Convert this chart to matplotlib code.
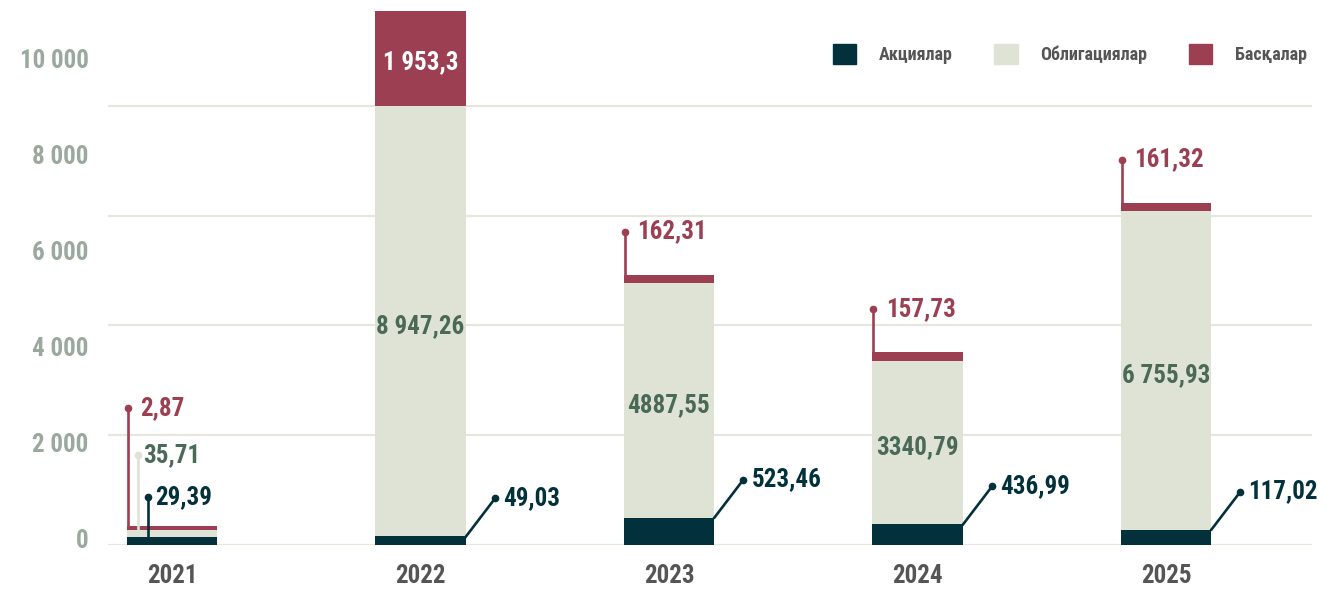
import numpy as np
import matplotlib
matplotlib.use('Agg')
import matplotlib.pyplot as plt
import matplotlib.transforms as mtrans
from matplotlib.patches import Patch

# data
years = ['2021', '2022', '2023', '2024', '2025']
series_names = ['Акциялар', 'Облигациялар', 'Басқалар']

stocks_lbl = ['29,39', '49,03', '523,46', '436,99', '117,02']
bonds_lbl = ['35,71', '8 947,26', '4887,55', '3340,79', '6 755,93']
other_lbl = ['2,87', '1 953,3', '162,31', '157,73', '161,32']

# bar heights as drawn (small segments are drawn bigger than their value)
stocks_h = [155, 167, 562, 417, 312]
bonds_h = [156, 8980, 4896, 3417, 6646]
other_h = [83, 1979, 167, 167, 167]

yticks = [0, 2000, 4000, 6000, 8000, 10000]
ytick_lbl = ['0', '2 000', '4 000', '6 000', '8 000', '10 000']
grid_levels = [0, 2285, 4570, 6855, 9140]

# 2021 callout tips (stocks, bonds, other)
tips_2021 = [990, 1865, 2844]

# colours
c_stock = '#03313b'
c_bond = '#dfe3d5'
c_other = '#9d3f52'
c_bond_txt = '#4a6a57'
c_tick = '#9aa89e'
c_year = '#555555'
c_grid = '#e6e6dd'

plt.rcParams['font.family'] = ['Liberation Sans Narrow', 'Roboto Condensed', 'DejaVu Sans']
plt.rcParams['font.weight'] = 'bold'

W, H = 1342, 591
fig = plt.figure(figsize=(W / 100, H / 100), dpi=100)
left_px, right_px, bot_px, top_px = 108, 1312, 544.5, 7
ax = fig.add_axes([left_px / W, (H - bot_px) / H, (right_px - left_px) / W, (bot_px - top_px) / H])

x = np.arange(len(years))
bw = 0.366
xmin, xmax = -0.2575, 4.5875
ymax = 11200
ax.set_xlim(xmin, xmax)
ax.set_ylim(0, ymax)

# px -> data units
px_x = (xmax - xmin) / (right_px - left_px)
px_y = ymax / (bot_px - top_px)

for g in grid_levels:
    ax.axhline(g, color=c_grid, lw=1.6, zorder=0)

s = np.array(stocks_h)
b = np.array(bonds_h)
o = np.array(other_h)
ax.bar(x, s, bw, color=c_stock, zorder=2)
ax.bar(x, b, bw, bottom=s, color=c_bond, zorder=2)
ax.bar(x, o, bw, bottom=s + b, color=c_other, zorder=2)

fs = 18
lw = 1.9
ms = 4.5

# 2021: three vertical callouts from the tiny bar
x0 = x[0] - bw / 2
calls = [
    (x0 + 21 * px_x, s[0] - 2 * px_y, tips_2021[0], c_stock, stocks_lbl[0], c_stock, 8),
    (x0 + 11 * px_x, s[0] + b[0], tips_2021[1], c_bond, bonds_lbl[0], c_bond_txt, 6),
    (x0 + 1 * px_x, s[0] + b[0] + o[0], tips_2021[2], c_other, other_lbl[0], c_other, 13),
]
for xx, y_from, y_to, lc, txt, tc, gap in calls:
    ax.plot([xx, xx], [y_from, y_to], color=lc, lw=lw, zorder=3, solid_capstyle='butt')
    ax.plot([xx], [y_to], 'o', color=lc, ms=ms, zorder=3)
    ax.text(xx + gap * px_x, y_to, txt, color=tc, fontsize=fs, va='center', ha='left')

# other years: diagonal callout for stocks, bond label inside
for i in range(1, len(years)):
    xs = x[i] + bw / 2
    xe = xs + 29 * px_x
    ye = s[i] + 38 * px_y
    ax.plot([xs, xe], [s[i], ye], color=c_stock, lw=lw, zorder=3)
    ax.plot([xe], [ye], 'o', color=c_stock, ms=ms, zorder=3)
    ax.text(xe + 8 * px_x, ye, stocks_lbl[i], color=c_stock, fontsize=fs, va='center', ha='left')
    ax.text(x[i], s[i] + b[i] / 2 - 5 * px_y, bonds_lbl[i], color=c_bond_txt, fontsize=fs,
            va='center', ha='center', zorder=4)

# other: inside for 2022, vertical callouts for 2023-2025
ax.text(x[1], s[1] + b[1] + o[1] / 2 - 4 * px_y, other_lbl[1], color='white', fontsize=fs,
        va='center', ha='center', zorder=4)
for i in range(2, len(years)):
    xl = x[i] - bw / 2 + 1 * px_x
    yt = s[i] + b[i] + o[i]
    ye = yt + 43 * px_y
    ax.plot([xl, xl], [yt, ye], color=c_other, lw=lw, zorder=3, solid_capstyle='butt')
    ax.plot([xl], [ye], 'o', color=c_other, ms=ms, zorder=3)
    ax.text(xl + 13 * px_x, ye, other_lbl[i], color=c_other, fontsize=fs, va='center', ha='left')

ax.set_xticks(x)
ax.set_xticklabels(years, color=c_year, fontsize=fs)
ax.set_yticks(yticks)
ax.set_yticklabels(ytick_lbl, color=c_tick, fontsize=fs)
ax.tick_params(axis='both', length=0)
ax.tick_params(axis='x', pad=14)
ax.tick_params(axis='y', pad=14)
shift = mtrans.ScaledTranslation(0, 6 / 100, fig.dpi_scale_trans)
for lab in ax.get_yticklabels():
    lab.set_transform(lab.get_transform() + shift)

for sp in ax.spines.values():
    sp.set_visible(False)

handles = [Patch(color=c_stock), Patch(color=c_bond), Patch(color=c_other)]
leg = fig.legend(handles, series_names, loc='upper right', ncol=3, frameon=False,
                 bbox_to_anchor=(1307 / W, (H - 44) / H), borderaxespad=0, borderpad=0,
                 handlelength=1.3, handleheight=1.3, handletextpad=1.25, columnspacing=2.3,
                 prop={'size': 13, 'weight': 'bold'})
for t in leg.get_texts():
    t.set_color(c_year)

fig.savefig('out.png', dpi=100)
